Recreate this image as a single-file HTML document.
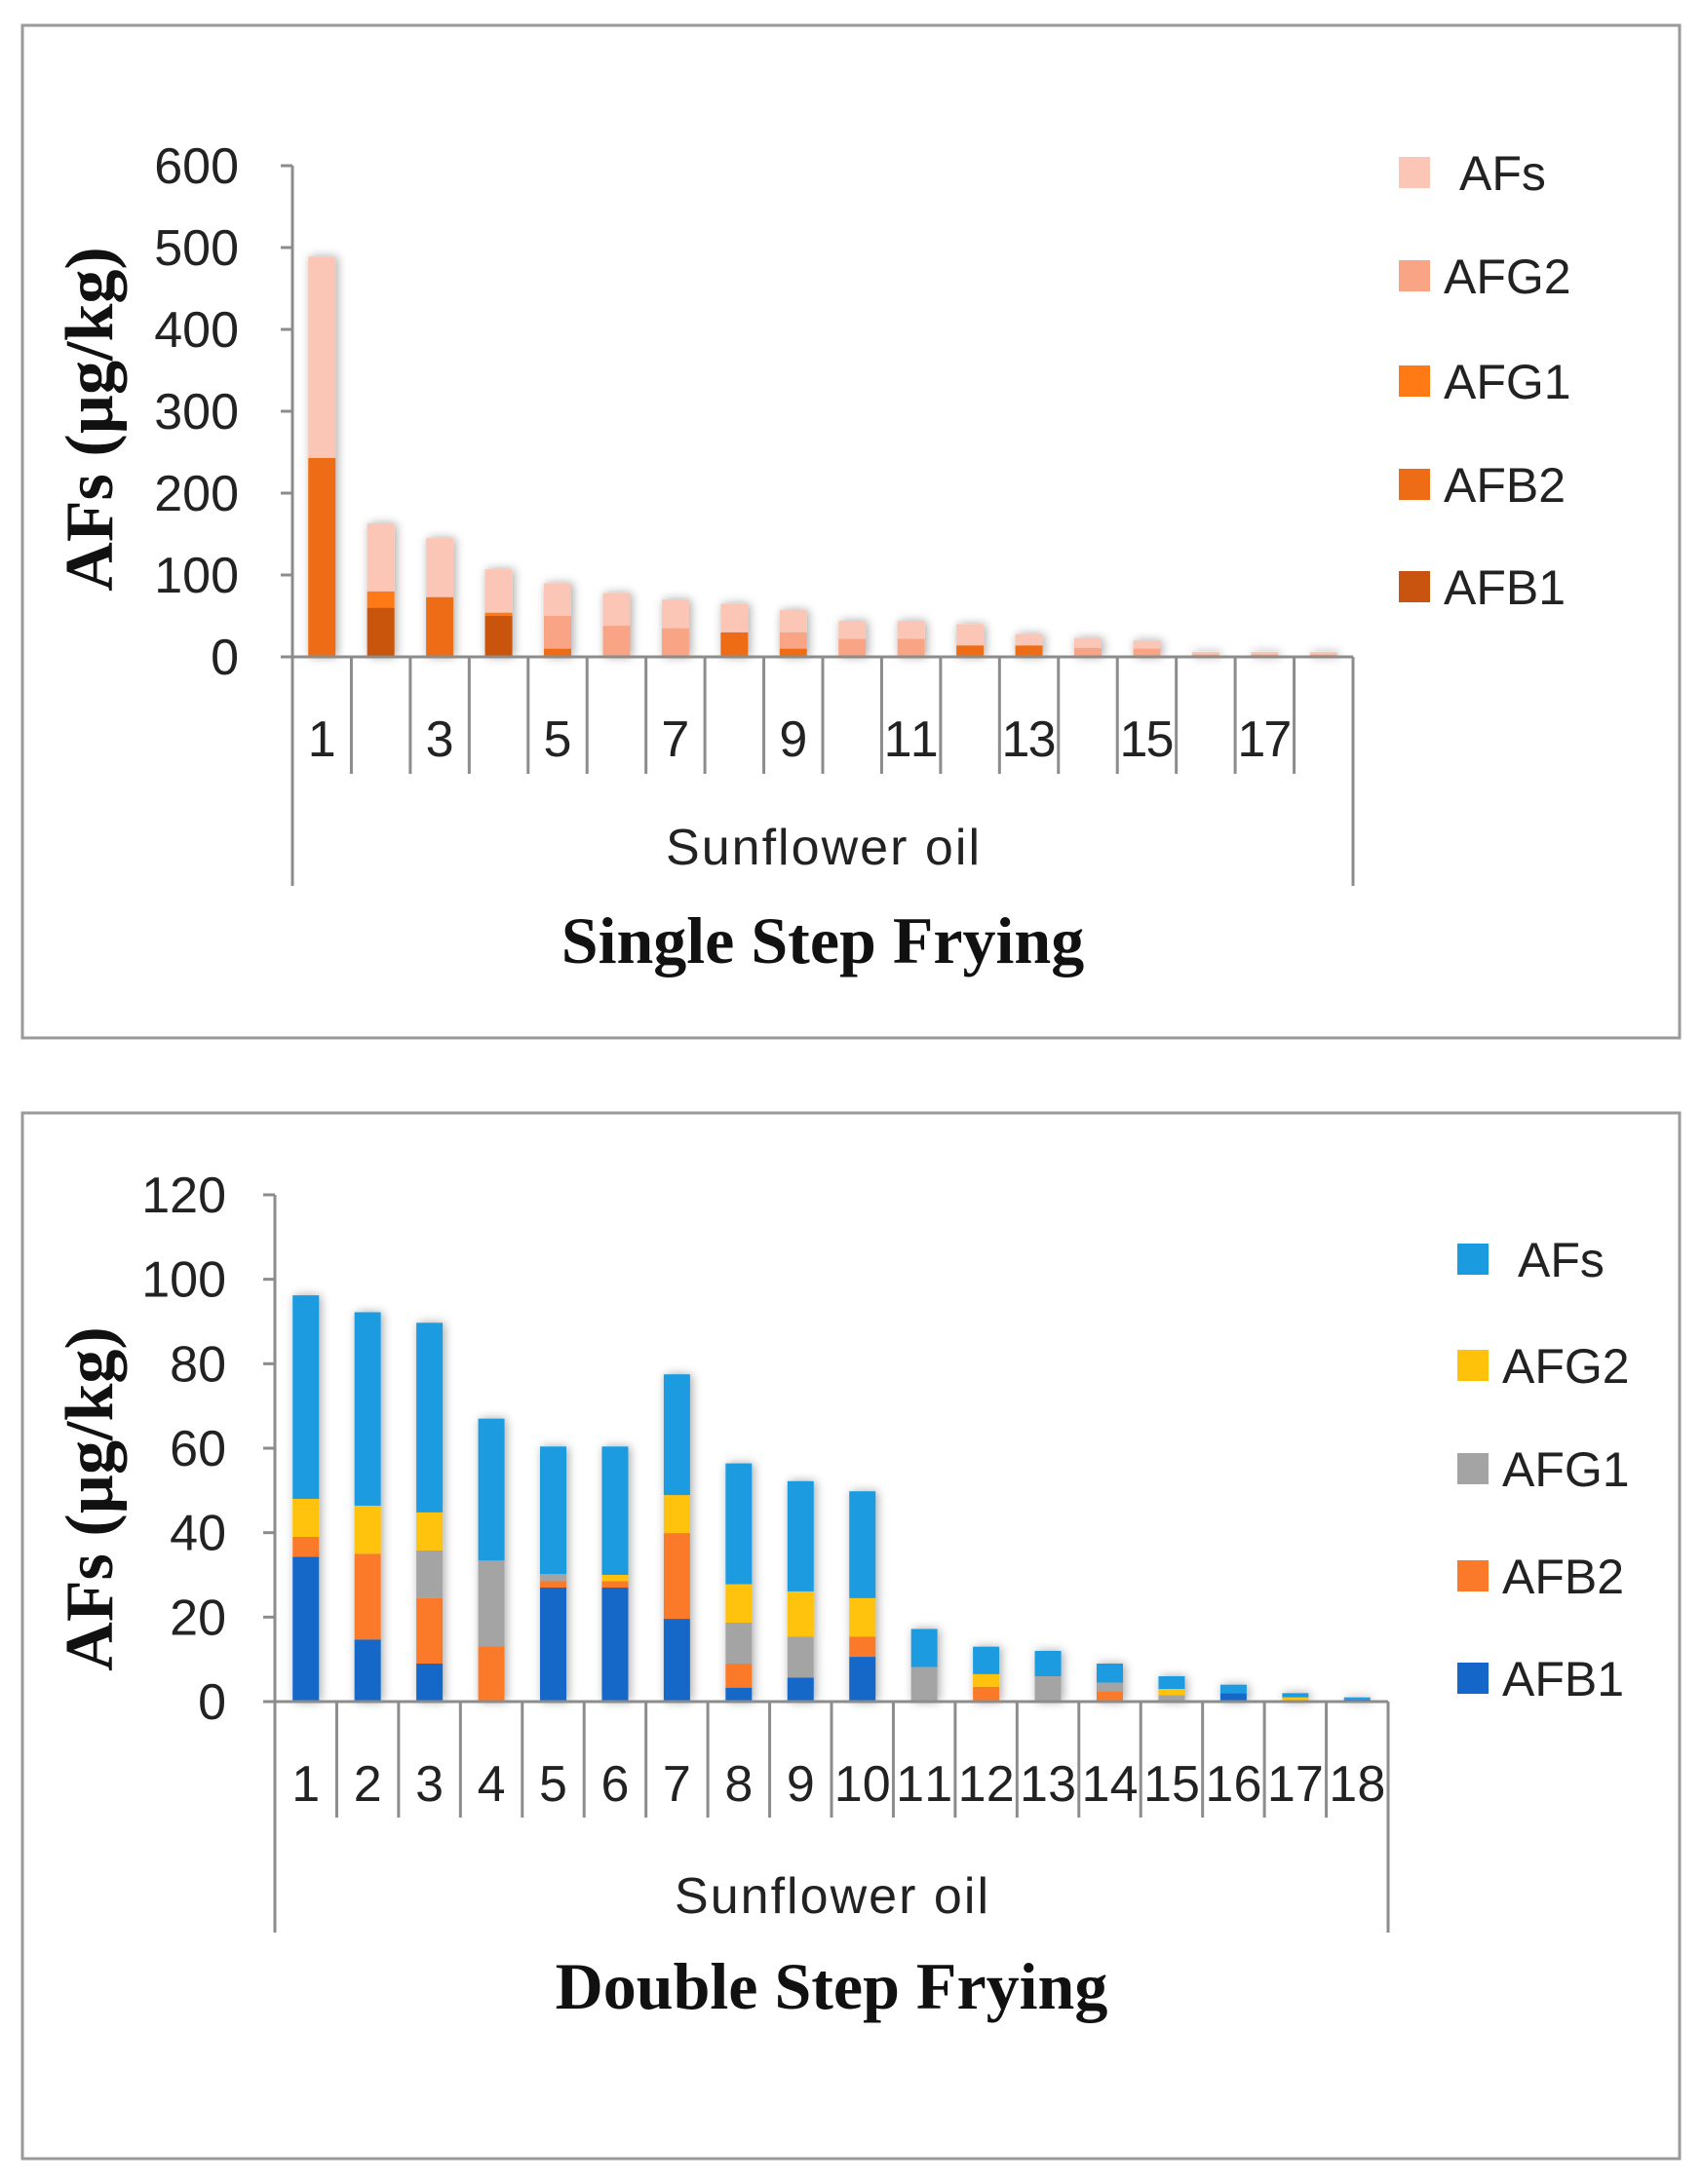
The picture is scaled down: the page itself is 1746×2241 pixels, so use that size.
<!DOCTYPE html>
<html><head><meta charset="utf-8"><style>
html,body{margin:0;padding:0;background:#fff;}
svg{display:block;}
</style></head><body>
<svg id="svg" width="1746" height="2241" viewBox="0 0 1746 2241" xmlns="http://www.w3.org/2000/svg">
<defs>
<filter id="sh" x="-50%" y="-10%" width="200%" height="120%"><feGaussianBlur in="SourceAlpha" stdDeviation="5"/><feOffset dx="2" dy="0"/><feComponentTransfer><feFuncA type="linear" slope="0.35"/></feComponentTransfer><feMerge><feMergeNode/><feMergeNode in="SourceGraphic"/></feMerge></filter>
</defs>
<rect x="23" y="26" width="1700" height="1039" fill="#fff" stroke="#9a9a9a" stroke-width="3"/>
<rect x="23" y="1142" width="1700" height="1073" fill="#fff" stroke="#9a9a9a" stroke-width="3"/>
<g id="top"></g>
<g id="bot"></g>
</svg>
<script>
const categories = ["1","2","3","4","5","6","7","8","9","10","11","12","13","14","15","16","17","18"];
const seriesNames = ["AFB1","AFB2","AFG1","AFG2","AFs"];
// Single step frying
const topAFB1 = [0,60,0,50,0,0,0,0,0,0,0,0,0,0,0,0,0,0];
const topAFB2 = [243,0,73,0,10,0,0,30,10,0,0,14,14,0,0,0,0,0];
const topAFG1 = [0,20,0,4,0,0,0,0,0,0,0,0,0,0,0,0,0,0];
const topAFG2 = [0,0,0,0,40,38,35,0,20,22,22,0,0,11,10,3,3,3];
const topAFs  = [246,83,72,53,40,40,35,35,27,22,22,26,14,12,10,3,3,3];
const topTicks = [0,100,200,300,400,500,600];
const topLabels = ["1","","3","","5","","7","","9","","11","","13","","15","","17",""];
// Double step frying
const botAFB1 = [34.3,14.7,9,0,27,27,19.6,3.3,5.7,10.6,0,0,0,0,0,2,0,0.5];
const botAFB2 = [4.7,20.3,15.5,13.1,1.5,1.5,20.3,5.7,0,4.8,0,3.5,0,2.5,0,0,0,0];
const botAFG1 = [0,0,11.3,20.3,1.7,0,0,9.7,9.7,0,8.2,0,6,2,1.5,0,0,0];
const botAFG2 = [9,11.4,9,0,0,1.5,9,9.1,10.7,9.1,0,3,0,0,1.5,0,1,0];
const botAFs  = [48.2,45.8,44.9,33.6,30.2,30.4,28.6,28.6,26.1,25.3,9,6.5,6,4.5,3,2,1,0.5];
const botTicks = [0,20,40,60,80,100,120];

const NS="http://www.w3.org/2000/svg";
function mk(parent,tag,attrs,text){const e=document.createElementNS(NS,tag);for(const k in attrs)e.setAttribute(k,attrs[k]);if(text!==undefined)e.textContent=text;parent.appendChild(e);return e;}

function drawChart(g,cfg){
  const {x0,x1,y0,ymax,ytop,series,colors,ticks,labels,labY,sepY,grpY,groupLabY,titleY,title,legX,legY,tickRight,ytitleY} = cfg;
  const n=categories.length, cw=(x1-x0)/n, bw=cfg.bw;
  const yS=v=>y0-(v/ymax)*(y0-ytop);
  const xS=i=>x0+cw*i+cw/2;
  const bars=mk(g,'g',{filter:'url(#sh)'});
  
  
  for(let i=0;i<n;i++){
    let acc=0;
    for(let s=0;s<series.length;s++){
      const v=series[s][i]; if(!(v>0)) continue;
      const r=mk(bars,'rect',{x:xS(i)-bw/2,y:yS(acc+v),width:bw,height:yS(acc)-yS(acc+v),fill:colors[s]});
      
      
      acc+=v;
    }
  }
  const ax=mk(g,'g',{stroke:'#8c8c8c','stroke-width':3,fill:'none'});
  
  
  mk(ax,'line',{x1:x0,y1:ytop,x2:x0,y2:grpY});
  mk(ax,'line',{x1:x0-12,y1:y0,x2:x1,y2:y0});
  mk(ax,'line',{x1:x1,y1:y0,x2:x1,y2:grpY});
  for(let i=1;i<n;i++) mk(ax,'line',{x1:x0+cw*i,y1:y0,x2:x0+cw*i,y2:sepY});
  ticks.forEach(t=>{mk(ax,'line',{x1:x0-12,y1:yS(t),x2:x0,y2:yS(t)});});
  ticks.forEach(t=>{
    const tx=mk(g,'text',{x:tickRight,y:yS(t)+18,'text-anchor':'end','font-family':'Liberation Sans, sans-serif','font-size':52,fill:'#222'},String(t));
    
    
  });
  labels.forEach((l,i)=>{ if(!l) return;
    const tx=mk(g,'text',{x:xS(i),y:labY,'text-anchor':'middle','font-family':'Liberation Sans, sans-serif','font-size':cfg.labFs,fill:'#222'},l);
    if(l.length===2) tx.setAttribute('textLength',cfg.twoW);
    
    
  });
  const gl=mk(g,'text',{x:(x0+x1)/2,y:groupLabY,'text-anchor':'middle','font-family':'Liberation Sans, sans-serif','font-size':52,fill:'#222',textLength:322},'Sunflower oil');
  
  
  const tt=mk(g,'text',{x:(x0+x1)/2,y:titleY,'text-anchor':'middle','font-family':'Liberation Serif, serif','font-size':68,'font-weight':'bold',fill:'#111'},title);
  
  
  const yt=mk(g,'text',{x:0,y:0,transform:`translate(115,${ytitleY}) rotate(-90)`,'text-anchor':'middle','font-family':'Liberation Serif, serif','font-size':70,'font-weight':'bold',fill:'#111'},'AFs (µg/kg)');
  
  
  for(let k=0;k<5;k++){
    const s=4-k;
    const lg=mk(g,'g',{});
    
    
    mk(lg,'rect',{x:legX,y:legY[k]-16,width:32,height:32,fill:colors[s]});
    mk(lg,'text',{x:legX+(s===4?62:46),y:legY[k]+18,'font-family':'Liberation Sans, sans-serif','font-size':50,fill:'#222'},seriesNames[s]);
  }
}

drawChart(document.getElementById('top'),{
  x0:300,x1:1388,y0:674,ymax:600,ytop:170,bw:28,
  series:[topAFB1,topAFB2,topAFG1,topAFG2,topAFs],
  colors:['#c9540f','#ef6c17','#ff7a14','#f9a585','#fbc6b5'],
  ticks:topTicks,labels:topLabels,labY:776,labFs:52,twoW:56,sepY:794,grpY:909,groupLabY:887,titleY:988,
  title:'Single Step Frying',legX:1435,legY:[177,283,391,497,602],tickRight:245,ytitleY:430
});
drawChart(document.getElementById('bot'),{
  x0:282,x1:1424,y0:1746,ymax:120,ytop:1226,bw:27,
  series:[botAFB1,botAFB2,botAFG1,botAFG2,botAFs],
  colors:['#1467c8','#fb7a2a','#a4a4a4','#ffc20a','#1a9be0'],
  ticks:botTicks,labels:categories,labY:1848,labFs:52,twoW:58,sepY:1865,grpY:1983,groupLabY:1963,titleY:2061,
  title:'Double Step Frying',legX:1495,legY:[1292,1401,1507,1617,1722],tickRight:232,ytitleY:1538
});
</script>
</body></html>
